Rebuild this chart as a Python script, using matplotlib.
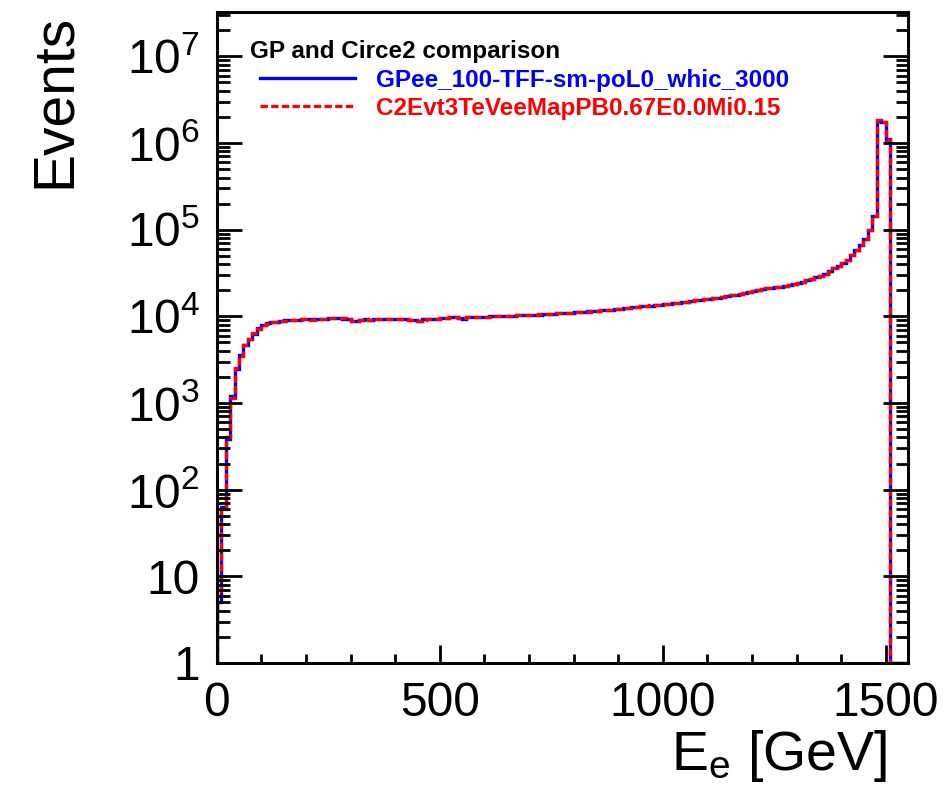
import numpy as np
import matplotlib
matplotlib.use("Agg")
import matplotlib.pyplot as plt
from matplotlib.ticker import FixedLocator, MultipleLocator, LogLocator, NullFormatter

plt.rcParams['font.family'] = ['Liberation Sans', 'DejaVu Sans']
plt.rcParams['mathtext.default'] = 'regular'

# 10 GeV bins, 0 - 1550 GeV
bin_width = 10
n_bins = 155

# GPee_100-TFF-sm-poL0_whic_3000 (blue), events per bin
gp_events = [
    5, 63, 380, 1200, 2500, 3550, 4650, 5500, 6300, 7250,
    7900, 8300, 8500, 8700, 8800, 9000, 9000, 9100, 9100, 9200,
    9200, 9200, 9300, 9300, 9400, 9600, 9500, 9600, 9400, 9300,
    8800, 8900, 9100, 9200, 9100, 9200, 9200, 9300, 9200, 9300,
    9300, 9200, 9300, 9100, 9000, 8900, 9200, 9300, 9400, 9300,
    9500, 9600, 9900, 9700, 9500, 9400, 9800, 9900, 9700, 9800,
    9900, 10000, 10000, 10100, 10000, 10200, 10200, 10300, 10300, 10400,
    10400, 10500, 10500, 10600, 10700, 10700, 10800, 10900, 11000, 11000,
    11100, 11200, 11300, 11400, 11500, 11600, 11700, 11800, 11900, 12100,
    12200, 12400, 12600, 12700, 12900, 13000, 13200, 13300, 13500, 13700,
    13800, 14000, 14200, 14400, 14600, 14800, 15000, 15300, 15500, 15800,
    16000, 16200, 16500, 16800, 17200, 17500, 17800, 18200, 18600, 19000,
    19500, 20000, 20500, 21000, 21500, 22000, 22000, 22500, 23000, 23500,
    24000, 25000, 26000, 27000, 28500, 29500, 31000, 33000, 36000, 38000,
    41000, 45000, 51000, 58000, 66000, 79000, 98000, 143000, 1800000, 1750000,
    1100000, 0, 0, 0, 0,
]

# C2Evt3TeVeeMapPB0.67E0.0Mi0.15 (red dashed)
c2_events = [
    6, 60, 400, 1150, 2550, 3500, 4700, 5450, 6350, 7200,
    7950, 8250, 8550, 8650, 8850, 8950, 9050, 9100, 9150, 9200,
    9250, 9150, 9300, 9350, 9400, 9500, 9550, 9600, 9450, 9350,
    8900, 8850, 9150, 9200, 9150, 9250, 9200, 9300, 9250, 9300,
    9250, 9250, 9300, 9150, 9050, 8950, 9150, 9350, 9400, 9250,
    9500, 9650, 9850, 9700, 9550, 9450, 9750, 9900, 9750, 9800,
    9950, 9950, 10050, 10100, 10050, 10150, 10250, 10250, 10350, 10400,
    10450, 10450, 10550, 10600, 10650, 10750, 10800, 10850, 10950, 11050,
    11100, 11150, 11300, 11350, 11500, 11550, 11700, 11850, 11900, 12050,
    12250, 12350, 12550, 12750, 12850, 13050, 13150, 13350, 13450, 13700,
    13850, 13950, 14250, 14350, 14650, 14750, 15050, 15250, 15550, 15750,
    16050, 16250, 16450, 16850, 17150, 17550, 17750, 18250, 18550, 19050,
    19450, 20050, 20450, 21050, 21450, 21900, 22100, 22400, 23100, 23400,
    24100, 24900, 26100, 26900, 28600, 29400, 31100, 32900, 36200, 37800,
    41200, 44800, 51200, 57800, 66500, 78500, 98500, 142000, 1820000, 1740000,
    1090000, 0, 0, 0, 0,
]

legend_header = "GP and Circe2 comparison"
gp_label = "GPee_100-TFF-sm-poL0_whic_3000"
c2_label = "C2Evt3TeVeeMapPB0.67E0.0Mi0.15"

y_ticks = [1, 10, 1e2, 1e3, 1e4, 1e5, 1e6, 1e7]
y_tick_labels = ["1", "10", "$10^{2}$", "$10^{3}$", "$10^{4}$",
                 "$10^{5}$", "$10^{6}$", "$10^{7}$"]
x_ticks = [0, 500, 1000, 1500]

ymin, ymax = 1, 3.25e7
edges = np.arange(n_bins + 1) * bin_width

W, H = 943, 787
fig = plt.figure(figsize=(W / 100, H / 100), dpi=100)
ax = fig.add_axes([216.7 / W, 1 - 663 / H, (908 - 216.7) / W, (663 - 12) / H])

# empty bins are drawn on the frame bottom, like ROOT does
ax.stairs(np.clip(gp_events, ymin, None), edges, baseline=ymin,
          color=(0, 0, 1), lw=2.4, label=gp_label)
ax.stairs(np.clip(c2_events, ymin, None), edges, baseline=ymin,
          color=(1, 0, 0), lw=2.4, linestyle=(0, (2.2, 1.0)), label=c2_label)

ax.set_yscale('log')
ax.set_ylim(ymin, ymax)
ax.set_xlim(0, 1550)

ax.yaxis.set_major_locator(FixedLocator(y_ticks))
ax.set_yticklabels(y_tick_labels)
ax.yaxis.set_minor_locator(LogLocator(base=10, subs=np.arange(2, 10), numticks=20))
ax.yaxis.set_minor_formatter(NullFormatter())
ax.xaxis.set_major_locator(FixedLocator(x_ticks))
ax.xaxis.set_minor_locator(MultipleLocator(100))

ax.tick_params(axis='y', which='major', direction='in', length=18, width=2,
               left=True, right=True, pad=12, labelsize=34.5)
ax.tick_params(axis='y', which='minor', direction='in', length=9, width=2,
               left=True, right=True)
ax.tick_params(axis='x', which='major', direction='in', length=12.7, width=2,
               top=False, pad=13, labelsize=34.5)
ax.tick_params(axis='x', which='minor', direction='in', length=6.5, width=2,
               top=False)
for sp in ax.spines.values():
    sp.set_linewidth(2.2)

ax.set_xlabel("E$_{e}$ [GeV]", fontsize=40, loc='right')
ax.xaxis.set_label_coords(0.9696, -0.1)
ax.set_ylabel("Events", fontsize=41, loc='top')
ax.yaxis.set_label_coords(-0.195, 0.997)

# legend
fig.text(250 / W, 1 - 58 / H, legend_header, fontsize=17.5, fontweight='bold',
         va='baseline', ha='left')
leg = ax.legend(loc='upper left', bbox_to_anchor=(260 / W, 1 - 69 / H),
                bbox_transform=fig.transFigure, frameon=False, borderpad=0,
                borderaxespad=0, handlelength=3.9, handletextpad=0.86,
                labelspacing=0.2, prop={'size': 17.5, 'weight': 'bold'})
for txt, col in zip(leg.get_texts(), [(0, 0, 1), (1, 0, 0)]):
    txt.set_color(col)

fig.savefig("out.png", dpi=100)
